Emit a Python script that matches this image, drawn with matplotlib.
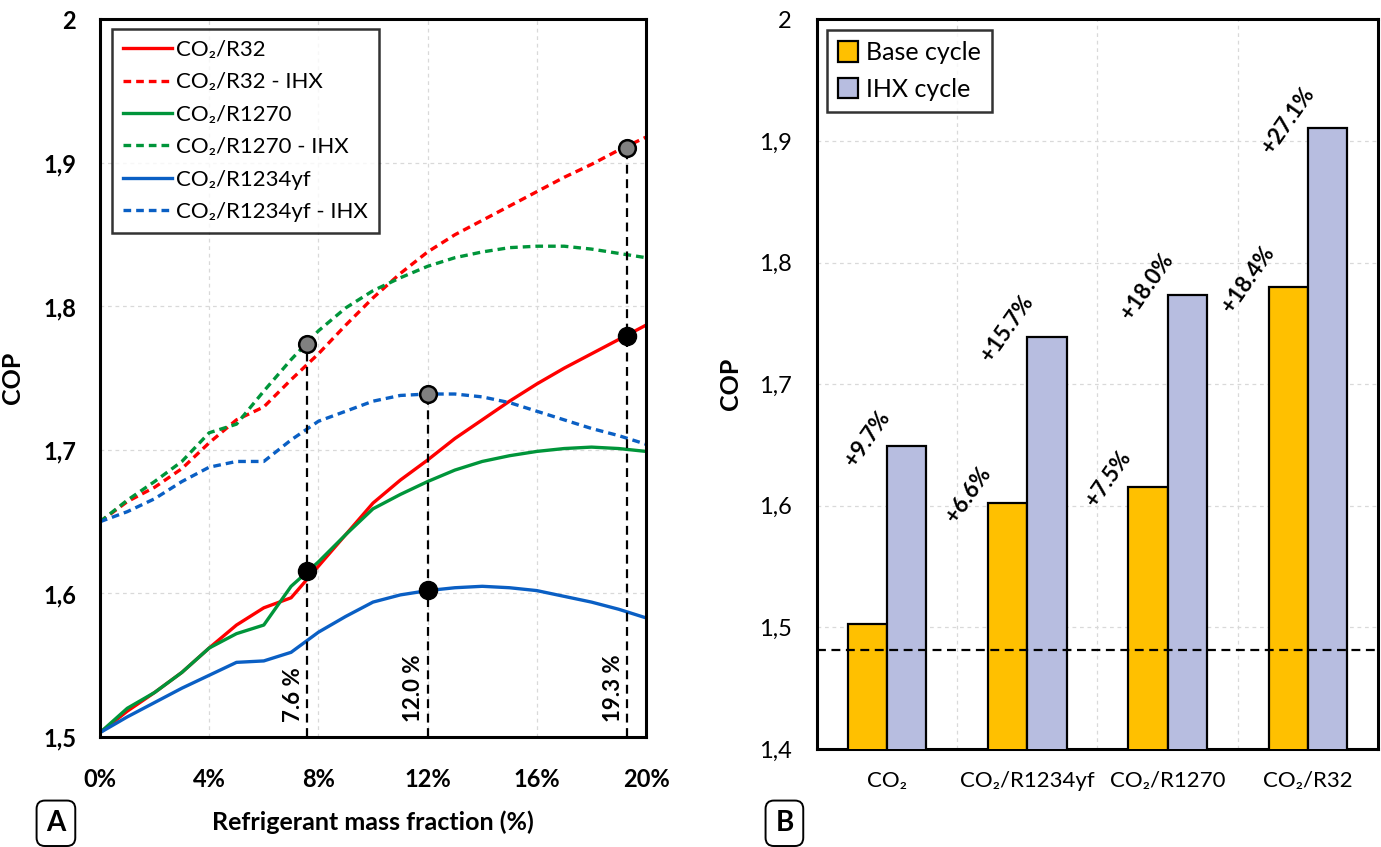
import numpy as np
import matplotlib
matplotlib.use('Agg')
import matplotlib.pyplot as plt
from matplotlib.ticker import FuncFormatter, MultipleLocator

plt.rcParams['font.family'] = ['Lato', 'DejaVu Sans']

# --- panel A: COP vs refrigerant mass fraction (%) ---
frac = np.arange(0, 21)
cop_r32 = [1.503, 1.518, 1.531, 1.545, 1.562, 1.578, 1.590, 1.597, 1.619, 1.641, 1.663,
           1.679, 1.693, 1.708, 1.721, 1.734, 1.746, 1.757, 1.767, 1.777, 1.787]
cop_r32_ihx = [1.650, 1.664, 1.674, 1.687, 1.705, 1.721, 1.730, 1.749, 1.767, 1.787, 1.806,
               1.823, 1.838, 1.850, 1.860, 1.870, 1.880, 1.890, 1.899, 1.909, 1.918]
cop_r1270 = [1.503, 1.520, 1.531, 1.545, 1.562, 1.572, 1.578, 1.605, 1.622, 1.641, 1.659,
             1.669, 1.678, 1.686, 1.692, 1.696, 1.699, 1.701, 1.702, 1.701, 1.699]
cop_r1270_ihx = [1.650, 1.665, 1.678, 1.692, 1.712, 1.718, 1.741, 1.763, 1.783, 1.799, 1.811,
                 1.820, 1.828, 1.834, 1.838, 1.841, 1.842, 1.842, 1.840, 1.837, 1.834]
cop_r1234yf = [1.503, 1.514, 1.524, 1.534, 1.543, 1.552, 1.553, 1.559, 1.573, 1.584, 1.594,
               1.599, 1.602, 1.604, 1.605, 1.604, 1.602, 1.598, 1.594, 1.589, 1.583]
cop_r1234yf_ihx = [1.650, 1.657, 1.666, 1.678, 1.688, 1.692, 1.692, 1.707, 1.720, 1.727, 1.734,
                   1.738, 1.739, 1.739, 1.737, 1.733, 1.727, 1.721, 1.715, 1.710, 1.704]

# optimum fractions: R1270 -> 7.6 %, R1234yf -> 12.0 %, R32 -> 19.3 %
opt_frac = [7.6, 12.0, 19.3]

# --- panel B: COP per fluid, increase relative to pure CO2 base cycle ---
fluids = ['CO₂', 'CO₂/R1234yf', 'CO₂/R1270', 'CO₂/R32']
cop_co2_base = 1.503
gain_base = [0.0, 6.6, 7.5, 18.4]     # %
gain_ihx = [9.7, 15.7, 18.0, 27.1]    # %
ref_line = 1.481

cop_base = [cop_co2_base * (1 + g / 100) for g in gain_base]
cop_ihx = [cop_co2_base * (1 + g / 100) for g in gain_ihx]

RED = '#ff0000'
GREEN = '#00953a'
BLUE = '#0a5fc4'
ORANGE = '#ffc000'
LAVENDER = '#b7bde0'

comma = FuncFormatter(lambda v, p: f'{v:g}'.replace('.', ','))

fig = plt.figure(figsize=(13.81, 8.47), dpi=100)
axA = fig.add_axes([0.0724, 0.1299, 0.3954, 0.8471])
axB = fig.add_axes([0.5916, 0.1157, 0.4062, 0.8615])

# ---------- A ----------
lw = 2.4
dash = (0, (2.3, 1.5))
axA.plot(frac, cop_r32, color=RED, lw=lw, label='CO₂/R32')
axA.plot(frac, cop_r32_ihx, color=RED, lw=lw, ls=dash, label='CO₂/R32 - IHX')
axA.plot(frac, cop_r1270, color=GREEN, lw=lw, label='CO₂/R1270')
axA.plot(frac, cop_r1270_ihx, color=GREEN, lw=lw, ls=dash, label='CO₂/R1270 - IHX')
axA.plot(frac, cop_r1234yf, color=BLUE, lw=lw, label='CO₂/R1234yf')
axA.plot(frac, cop_r1234yf_ihx, color=BLUE, lw=lw, ls=dash, label='CO₂/R1234yf - IHX')

opt_base = [cop_base[2], cop_base[1], cop_base[3]]
opt_ihx = [cop_ihx[2], cop_ihx[1], cop_ihx[3]]
axA.vlines(opt_frac, 1.5, opt_ihx, colors='black', linestyles=(0, (4, 2.5)), lw=1.6, zorder=4)
axA.plot(opt_frac, opt_base, 'o', color='black', ms=13, zorder=6, clip_on=False)
axA.plot(opt_frac, opt_ihx, 'o', color='#808080', mec='black', mew=1.8, ms=12, zorder=6,
         clip_on=False)
for xf in opt_frac:
    axA.text(xf - 0.5, 1.5105, f'{xf:.1f} %', rotation=90, ha='center', va='bottom',
             fontsize=16, fontweight='bold')

axA.set_xlim(0, 20)
axA.set_ylim(1.5, 2.0)
axA.xaxis.set_major_locator(MultipleLocator(4))
axA.yaxis.set_major_locator(MultipleLocator(0.1))
axA.xaxis.set_major_formatter(FuncFormatter(lambda v, p: f'{v:.0f}%'))
axA.yaxis.set_major_formatter(comma)
axA.tick_params(length=0, labelsize=17)
axA.tick_params(axis='x', pad=22)
axA.tick_params(axis='y', pad=17)
for lab in axA.get_xticklabels() + axA.get_yticklabels():
    lab.set_fontweight('bold')
axA.set_axisbelow(True)
axA.grid(True, color='#d9d9d9', ls=(0, (3, 3)), lw=0.9)
for s in axA.spines.values():
    s.set_linewidth(2.2)
axA.set_xlabel('Refrigerant mass fraction (%)', fontsize=18, fontweight='bold', labelpad=14)
axA.set_ylabel('COP', fontsize=18, fontweight='bold', labelpad=14)

legA = axA.legend(loc='upper left', bbox_to_anchor=(0.022, 0.987), borderaxespad=0,
                  fontsize=16, frameon=True, fancybox=False, edgecolor='black',
                  handlelength=2.2, handletextpad=0.2, labelspacing=0.56,
                  borderpad=0.5)
legA.get_frame().set_linewidth(1.8)

fig.text(0.0405, 0.028, 'A', fontsize=20, fontweight='bold', ha='center', va='center',
         bbox=dict(boxstyle='round,pad=0.35,rounding_size=0.3', fc='white', ec='black', lw=1.4))

# ---------- B ----------
x = np.arange(len(fluids))
w = 0.28
axB.set_axisbelow(True)
axB.bar(x - w / 2, cop_base, width=w, color=ORANGE, edgecolor='black', lw=1.6,
        label='Base cycle', zorder=3)
axB.bar(x + w / 2, cop_ihx, width=w, color=LAVENDER, edgecolor='black', lw=1.6,
        label='IHX cycle', zorder=3)
axB.axhline(ref_line, color='black', ls=(0, (4, 2.5)), lw=1.6, zorder=4)

lbl = dict(textcoords='offset pixels', rotation=55, ha='center', va='center',
           fontsize=16, fontweight='bold', rotation_mode='anchor')
for i in range(len(fluids)):
    axB.annotate(f'+{gain_ihx[i]:.1f}%', xy=(x[i], cop_ihx[i]), xytext=(-20, 8), **lbl)
    if gain_base[i] > 0:
        axB.annotate(f'+{gain_base[i]:.1f}%', xy=(x[i] - w, cop_base[i]), xytext=(-20, 8),
                     **lbl)

axB.set_xlim(-0.5, len(fluids) - 0.5)
axB.set_ylim(1.4, 2.0)
axB.set_xticks(x)
axB.set_xticklabels(fluids)
axB.set_xticks(x[:-1] + 0.5, minor=True)
axB.yaxis.set_major_locator(MultipleLocator(0.1))
axB.yaxis.set_major_formatter(comma)
axB.tick_params(length=0, labelsize=17)
axB.tick_params(axis='x', which='both', length=0, labelsize=16, pad=16)
axB.tick_params(axis='y', pad=18)
axB.grid(True, axis='y', color='#d9d9d9', ls=(0, (3, 3)), lw=0.9)
axB.grid(True, axis='x', which='minor', color='#d9d9d9', ls=(0, (3, 3)), lw=0.9)
for s in axB.spines.values():
    s.set_linewidth(2.2)
axB.set_ylabel('COP', fontsize=18, fontweight='bold', labelpad=12)

legB = axB.legend(loc='upper left', bbox_to_anchor=(0.018, 0.986), borderaxespad=0,
                  fontsize=18, frameon=True, fancybox=False, edgecolor='black',
                  handlelength=0.8, handleheight=0.9, handletextpad=0.3, labelspacing=0.55,
                  borderpad=0.45)
legB.get_frame().set_linewidth(1.8)

fig.text(0.568, 0.028, 'B', fontsize=20, fontweight='bold', ha='center', va='center',
         bbox=dict(boxstyle='round,pad=0.35,rounding_size=0.3', fc='white', ec='black', lw=1.4))

fig.savefig('out.png', dpi=100)
